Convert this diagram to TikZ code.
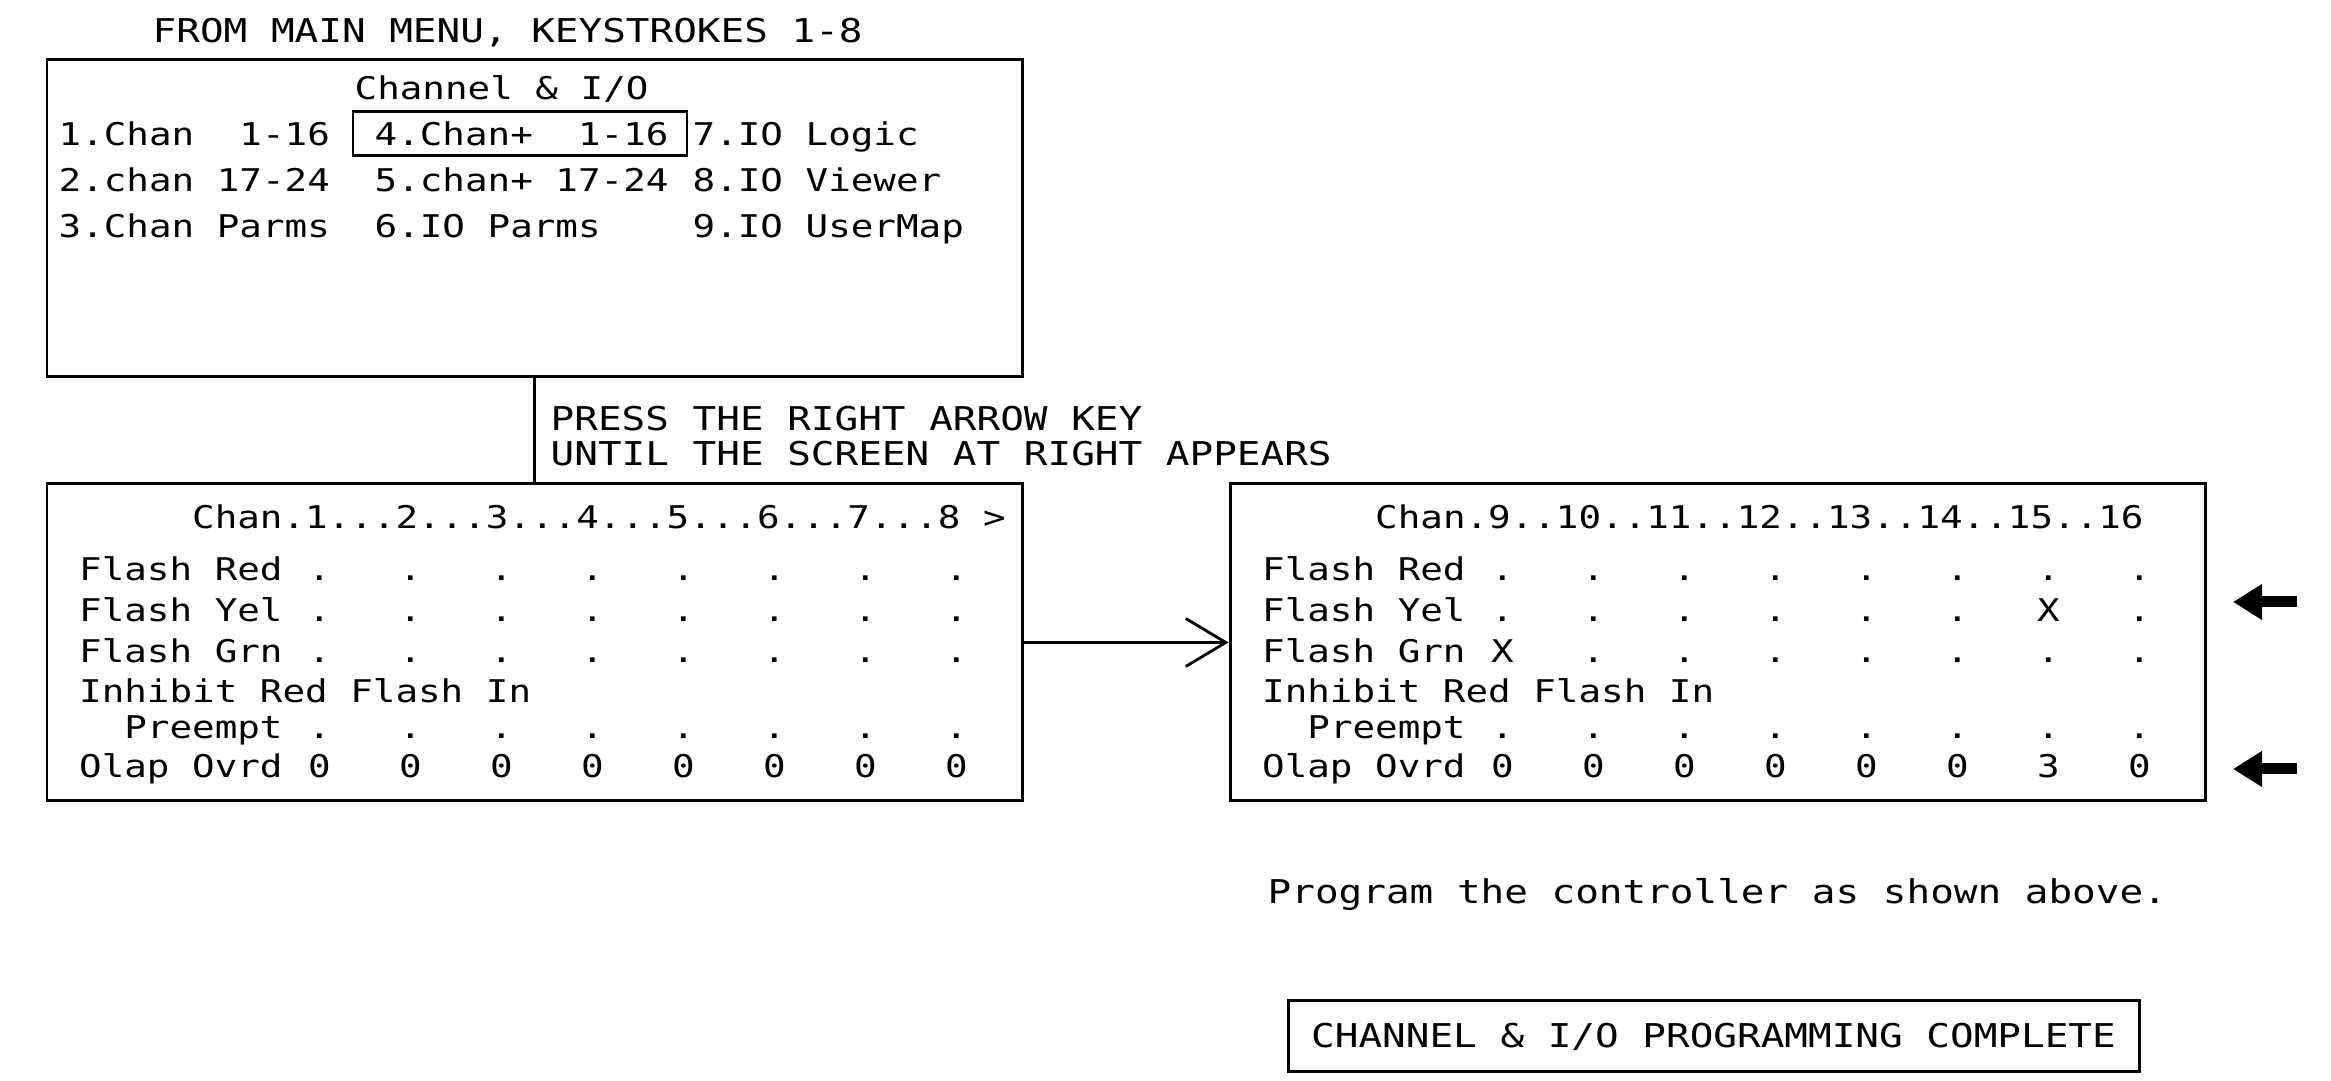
\documentclass[tikz,border=0pt]{standalone}
\usepackage{fontspec}
\newfontfamily\cadfont[FakeStretch=1.2]{DejaVu Sans Mono}
\usetikzlibrary{arrows.meta}

\begin{document}
\begin{tikzpicture}
            [
                screen/.style={draw, line width=0.85pt, inner sep=0pt},
                bigfont/.style={font=\cadfont\fontsize{9.32}{11}\selectfont},
                smallfont/.style={font=\cadfont\fontsize{8.9}{10}\selectfont},
                note/.style={bigfont, anchor=base west, inner sep=0pt},
                scrtxt/.style={smallfont, anchor=base west, inner sep=0pt},
                flow/.style={line width=0.8pt, -{Straight Barb[length=0.40cm,width=0.48cm]}},
                pointer/.style={line width=0.11cm, -{Triangle[length=0.29cm,width=0.34cm]}},
            ]
            \useasboundingbox (0,0) rectangle (23.31,-10.81);
            % main menu
            \node[note] (title) at (1.52,-0.43) {FROM MAIN MENU, KEYSTROKES 1-8};
            \node[screen, minimum width=9.75cm, minimum height=3.17cm] (menu) at (5.345,-2.185) {};
            \node[screen, minimum width=3.34cm, minimum height=0.44cm] (sel) at (5.20,-1.34) {};
            \node[scrtxt] (menuhead) at (3.54,-1.00) {Channel \& I/O};
            \node[scrtxt] (item1) at (0.58,-1.46) {1.Chan~~1-16};
            \node[scrtxt] (item2) at (0.58,-1.92) {2.chan 17-24};
            \node[scrtxt] (item3) at (0.58,-2.38) {3.Chan Parms};
            \node[scrtxt] (item4) at (3.74,-1.46) {4.Chan+~~1-16};
            \node[scrtxt] (item5) at (3.74,-1.92) {5.chan+ 17-24};
            \node[scrtxt] (item6) at (3.74,-2.38) {6.IO Parms};
            \node[scrtxt] (item7) at (6.92,-1.46) {7.IO Logic};
            \node[scrtxt] (item8) at (6.92,-1.92) {8.IO Viewer};
            \node[scrtxt] (item9) at (6.92,-2.38) {9.IO UserMap};
            % instrucao
            \node[note] (press1) at (5.50,-4.31) {PRESS THE RIGHT ARROW KEY};
            \node[note] (press2) at (5.50,-4.66) {UNTIL THE SCREEN AT RIGHT APPEARS};
            % tela canais 1-8
            \node[screen, minimum width=9.75cm, minimum height=3.17cm] (scrA) at (5.345,-6.425) {};
            \node[scrtxt] (headA) at (1.915,-5.29) {Chan.1...2...3...4...5...6...7...8 >};
            \node[scrtxt] (redA) at (0.785,-5.81) {Flash Red};
            \node[scrtxt] (yelA) at (0.785,-6.22) {Flash Yel};
            \node[scrtxt] (grnA) at (0.785,-6.63) {Flash Grn};
            \node[scrtxt] (inhA) at (0.785,-7.03) {Inhibit Red Flash In};
            \node[scrtxt] (preA) at (1.237,-7.39) {Preempt};
            \node[scrtxt] (olapA) at (0.785,-7.78) {Olap Ovrd};
            \foreach \y/\vals [count=\r] in {-5.81/{.,.,.,.,.,.,.,.}, -6.22/{.,.,.,.,.,.,.,.}, -6.63/{.,.,.,.,.,.,.,.}, -7.39/{.,.,.,.,.,.,.,.}, -7.78/{0,0,0,0,0,0,0,0}}
                \foreach \v [count=\k from 0] in \vals
                    \node[scrtxt] (a\r-\k) at ({0.80+(10+4*\k)*0.2275},\y) {\v};
            % tela canais 9-16
            \node[screen, minimum width=9.75cm, minimum height=3.17cm] (scrB) at (17.175,-6.425) {};
            \node[scrtxt] (headB) at (13.745,-5.29) {Chan.9..10..11..12..13..14..15..16};
            \node[scrtxt] (redB) at (12.615,-5.81) {Flash Red};
            \node[scrtxt] (yelB) at (12.615,-6.22) {Flash Yel};
            \node[scrtxt] (grnB) at (12.615,-6.63) {Flash Grn};
            \node[scrtxt] (inhB) at (12.615,-7.03) {Inhibit Red Flash In};
            \node[scrtxt] (preB) at (13.067,-7.39) {Preempt};
            \node[scrtxt] (olapB) at (12.615,-7.78) {Olap Ovrd};
            \foreach \y/\vals [count=\r] in {-5.81/{.,.,.,.,.,.,.,.}, -6.22/{.,.,.,.,.,.,X,.}, -6.63/{X,.,.,.,.,.,.,.}, -7.39/{.,.,.,.,.,.,.,.}, -7.78/{0,0,0,0,0,0,3,0}}
                \foreach \v [count=\k from 0] in \vals
                    \node[scrtxt] (b\r-\k) at ({12.63+(10+4*\k)*0.2275},\y) {\v};
            % ligacoes
            \draw[line width=0.8pt] (menu.south) -- (scrA.north);
            \draw[flow] (scrA.east) -- (scrB.west);
            \coordinate (yelTail) at (22.97,-6.02);
            \coordinate (yelTip) at (22.33,-6.02);
            \coordinate (olapTail) at (22.97,-7.69);
            \coordinate (olapTip) at (22.33,-7.69);
            \draw[pointer] (yelTail) -- (yelTip);
            \draw[pointer] (olapTail) -- (olapTip);
            % fim
            \node[note] (prog) at (12.67,-9.04) {Program the controller as shown above.};
            \node[screen, bigfont, minimum width=8.51cm, minimum height=0.71cm, text height=0.23cm, text depth=0cm] (done) at (17.135,-10.365) {CHANNEL \& I/O PROGRAMMING COMPLETE};
        \end{tikzpicture}
\end{document}
